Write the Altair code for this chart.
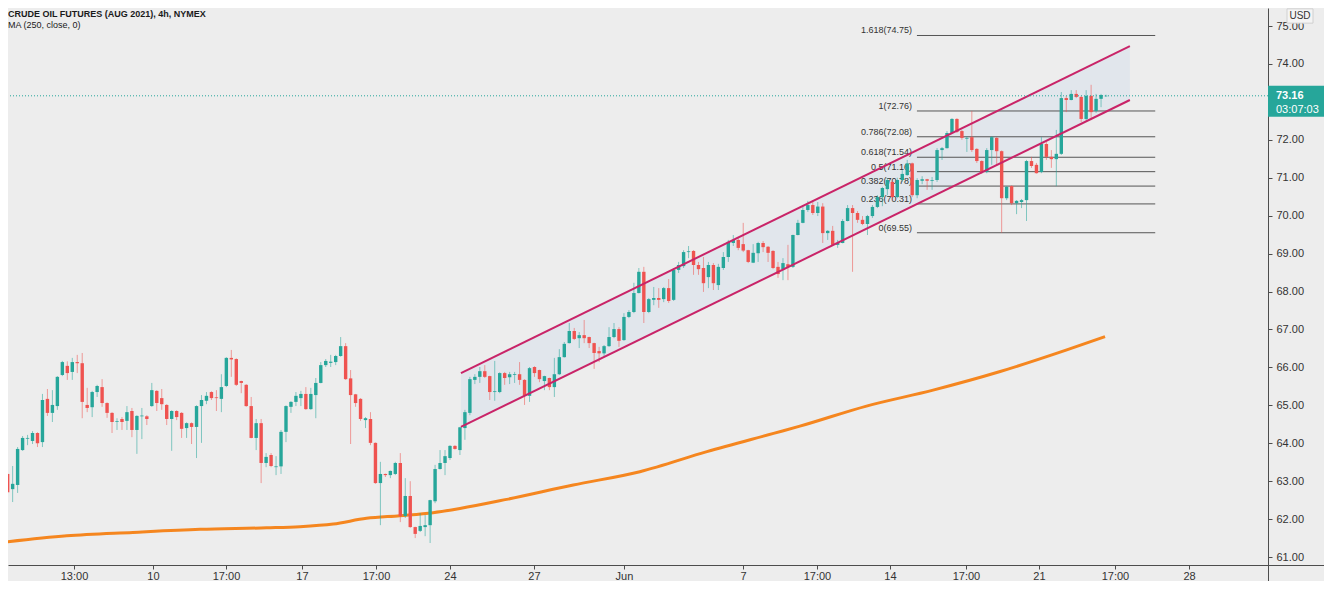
import json
import altair as alt
import pandas as pd

# ---------------- data ----------------
OPEN = [
    63.12, 63.19, 62.79, 62.90, 63.82, 64.12, 64.06, 64.27, 64.03, 65.17,
    64.80, 64.98, 65.80, 66.04, 65.88, 66.14, 66.11, 65.01, 64.95, 65.35,
    65.48, 65.06, 64.80, 64.56, 64.64, 64.59, 64.85, 64.35, 64.71, 64.71,
    64.98, 65.38, 65.19, 65.01, 64.64, 64.85, 64.80, 64.40, 64.53, 64.43,
    64.98, 65.12, 65.35, 65.21, 65.17, 65.51, 66.25, 66.22, 65.64, 65.54,
    64.98, 64.14, 64.53, 63.48, 63.69, 63.37, 63.39, 64.30, 64.96, 65.09,
    65.19, 65.30, 64.90, 65.27, 65.59, 66.06, 66.12, 66.14, 66.30, 66.56,
    65.71, 65.29, 65.17, 64.61, 64.64, 64.01, 62.95, 63.19, 63.16, 63.19,
    63.48, 62.08, 62.61, 61.79, 61.69, 61.79, 61.84, 62.47, 63.32, 63.48,
    63.61, 63.93, 63.82, 64.40, 64.80, 65.67, 65.75, 65.90, 65.77, 65.35,
    65.35, 65.85, 65.74, 65.80, 65.82, 65.67, 65.25, 66.01, 65.93, 65.64,
    65.72, 65.48, 65.82, 66.27, 66.64, 66.96, 66.77, 66.85, 66.80, 66.64,
    66.43, 66.37, 66.56, 66.80, 67.01, 66.72, 67.33, 67.46, 67.96, 68.52,
    67.46, 67.78, 67.83, 67.80, 68.09, 67.78, 68.57, 68.67, 69.04, 69.07,
    68.70, 68.62, 68.38, 68.70, 68.17, 68.62, 68.91, 69.28, 69.36, 69.25,
    69.09, 68.76, 69.01, 69.28, 69.18, 69.07, 68.65, 68.59, 68.72, 68.65,
    69.49, 69.81, 70.15, 70.28, 70.07, 70.24, 69.54, 69.60, 69.23, 69.28,
    69.86, 70.20, 70.07, 69.89, 69.78, 69.99, 70.23, 70.49, 70.70, 70.89,
    70.49, 70.94, 71.07, 71.38, 70.54, 70.92, 70.96, 70.92, 70.94, 71.73,
    71.78, 72.18, 72.55, 72.23, 72.03, 72.07, 71.76, 71.44, 71.15, 71.73,
    72.05, 71.70, 70.46, 70.78, 70.33, 70.36, 70.41, 71.44, 71.34, 71.15,
    71.89, 71.55, 71.49, 71.63, 73.10, 73.05, 73.21, 73.13, 72.55, 73.16,
    72.76, 73.08, 73.15,
]
HIGH = [
    63.48, 63.21, 63.40, 63.90, 64.19, 64.22, 64.32, 64.29, 65.30, 65.43,
    65.40, 65.77, 66.17, 66.16, 66.25, 66.33, 66.38, 65.46, 65.38, 65.54,
    65.69, 65.08, 64.82, 64.66, 64.69, 64.98, 64.93, 64.74, 64.93, 64.74,
    65.59, 65.40, 65.43, 65.03, 64.87, 64.87, 64.82, 64.55, 64.55, 65.00,
    65.27, 65.35, 65.37, 65.40, 65.82, 66.27, 66.46, 66.24, 65.65, 65.56,
    65.22, 64.64, 64.64, 63.74, 63.74, 63.66, 64.35, 65.00, 65.11, 65.35,
    65.38, 65.48, 65.46, 65.72, 66.14, 66.22, 66.33, 66.33, 66.80, 66.64,
    65.93, 65.30, 65.19, 64.69, 64.82, 64.02, 63.51, 63.20, 63.28, 63.51,
    63.74, 63.08, 63.00, 61.80, 62.16, 62.11, 62.51, 63.43, 63.82, 63.82,
    63.95, 63.95, 64.43, 64.88, 65.75, 65.82, 66.01, 66.06, 65.78, 66.17,
    65.87, 65.88, 65.88, 65.88, 66.14, 65.69, 66.01, 66.03, 65.94, 65.78,
    65.73, 66.25, 66.48, 66.67, 67.17, 67.04, 66.93, 67.25, 66.81, 66.65,
    66.54, 66.59, 67.06, 67.17, 67.06, 67.43, 67.51, 68.23, 68.62, 68.65,
    67.83, 68.12, 68.09, 68.12, 68.33, 68.62, 68.78, 69.09, 69.20, 69.09,
    68.78, 68.91, 68.78, 68.75, 68.73, 69.04, 69.36, 69.49, 69.44, 69.81,
    69.10, 69.25, 69.31, 69.33, 69.20, 69.09, 68.78, 68.88, 69.23, 69.50,
    69.89, 70.28, 70.39, 70.41, 70.36, 70.33, 69.62, 69.73, 69.36, 69.91,
    70.28, 70.28, 70.12, 69.99, 70.02, 70.28, 70.54, 70.76, 70.99, 70.94,
    71.00, 71.20, 71.47, 71.40, 70.99, 71.04, 70.97, 71.02, 71.78, 71.81,
    72.23, 72.57, 72.57, 72.26, 72.10, 72.76, 71.78, 71.46, 71.78, 72.10,
    72.07, 71.72, 70.78, 70.80, 70.41, 70.44, 71.47, 71.55, 71.39, 72.07,
    71.94, 71.73, 72.26, 73.26, 73.16, 73.31, 73.31, 73.16, 73.31, 73.45,
    73.21, 73.21, 73.19,
]
LOW = [
    63.10, 62.70, 62.45, 62.69, 63.80, 63.95, 63.98, 63.90, 63.90, 64.72,
    64.56, 64.88, 65.77, 65.67, 65.67, 65.85, 64.66, 64.82, 64.69, 65.22,
    64.96, 64.67, 64.27, 64.35, 64.35, 64.35, 64.16, 63.72, 64.11, 64.48,
    64.96, 64.85, 64.88, 64.48, 63.80, 64.61, 64.14, 64.14, 63.98, 63.61,
    64.01, 65.03, 65.14, 64.85, 64.82, 65.48, 65.75, 65.51, 65.32, 64.96,
    64.13, 63.82, 62.95, 63.37, 63.37, 63.16, 63.19, 64.03, 64.80, 64.98,
    64.98, 64.88, 64.88, 64.66, 65.58, 66.01, 66.01, 66.06, 66.28, 65.67,
    63.98, 64.96, 64.59, 64.40, 63.95, 62.93, 61.84, 63.11, 63.08, 63.16,
    61.92, 62.03, 61.77, 61.50, 61.66, 61.55, 61.37, 62.42, 63.31, 63.16,
    63.56, 63.83, 63.69, 64.09, 64.74, 65.56, 65.59, 65.72, 65.14, 65.12,
    65.32, 65.54, 65.56, 65.59, 65.54, 65.01, 65.09, 65.75, 65.61, 65.40,
    65.40, 65.22, 65.80, 66.26, 66.63, 66.72, 66.51, 66.64, 66.51, 65.96,
    66.14, 66.27, 66.54, 66.77, 66.54, 66.70, 67.30, 67.43, 67.95, 67.17,
    67.43, 67.64, 67.57, 67.72, 67.70, 67.75, 68.49, 68.62, 68.88, 68.44,
    68.44, 67.99, 68.09, 68.04, 68.04, 68.57, 68.78, 69.20, 69.09, 69.04,
    68.75, 68.75, 68.78, 69.04, 68.78, 68.59, 68.36, 68.30, 68.30, 68.62,
    69.48, 69.80, 70.10, 70.02, 69.99, 69.28, 69.36, 69.20, 69.15, 69.27,
    69.85, 68.52, 69.81, 69.75, 69.49, 69.94, 70.20, 70.25, 70.54, 70.41,
    70.46, 70.89, 71.05, 70.49, 70.46, 70.83, 70.68, 70.68, 70.89, 71.47,
    71.77, 72.17, 72.18, 72.00, 71.68, 71.68, 71.39, 71.10, 71.12, 71.34,
    71.34, 69.55, 70.41, 70.28, 70.04, 70.20, 69.86, 71.26, 71.11, 71.12,
    71.47, 71.26, 70.78, 71.60, 72.73, 73.04, 73.10, 72.47, 72.52, 72.52,
    72.71, 72.86, 73.13,
]
CLOSE = [
    63.15, 62.71, 62.93, 63.85, 64.14, 64.14, 64.27, 64.00, 65.14, 64.80,
    65.01, 65.75, 66.14, 65.85, 66.14, 66.11, 65.09, 64.93, 65.35, 65.51,
    65.06, 64.80, 64.56, 64.58, 64.56, 64.82, 64.35, 64.72, 64.73, 64.64,
    65.40, 65.06, 65.03, 64.64, 64.85, 64.69, 64.38, 64.53, 64.43, 64.98,
    65.14, 65.25, 65.19, 65.19, 65.48, 66.25, 66.21, 65.54, 65.59, 64.98,
    64.14, 64.53, 63.48, 63.64, 63.40, 63.39, 64.30, 64.98, 65.09, 65.25,
    65.30, 64.90, 65.30, 65.59, 66.06, 66.17, 66.15, 66.30, 66.56, 65.69,
    65.27, 65.06, 64.64, 64.66, 64.01, 62.95, 63.19, 63.16, 63.27, 63.48,
    62.08, 62.61, 61.79, 61.61, 61.82, 61.84, 62.50, 63.32, 63.48, 63.66,
    63.93, 63.85, 64.42, 64.82, 65.69, 65.75, 65.90, 65.75, 65.35, 65.37,
    65.85, 65.72, 65.82, 65.82, 65.67, 65.25, 65.98, 65.85, 65.69, 65.77,
    65.48, 65.82, 66.27, 66.62, 66.96, 66.75, 66.85, 66.77, 66.64, 66.38,
    66.37, 66.56, 66.80, 67.01, 66.70, 67.33, 67.46, 67.96, 68.52, 67.46,
    67.80, 67.83, 67.78, 68.09, 67.75, 68.57, 68.70, 69.04, 69.06, 68.70,
    68.59, 68.22, 68.70, 68.22, 68.65, 68.91, 69.31, 69.36, 69.15, 69.08,
    68.78, 69.02, 69.28, 69.17, 69.02, 68.62, 68.46, 68.75, 68.65, 69.49,
    69.81, 70.15, 70.28, 70.07, 70.24, 69.54, 69.60, 69.23, 69.28, 69.86,
    70.20, 70.07, 69.89, 69.78, 69.99, 70.23, 70.49, 70.73, 70.94, 70.49,
    70.94, 71.10, 71.38, 70.54, 70.94, 70.96, 70.92, 70.94, 71.73, 71.78,
    72.18, 72.55, 72.21, 72.05, 72.05, 71.73, 71.44, 71.15, 71.73, 72.07,
    71.70, 70.46, 70.76, 70.33, 70.39, 70.41, 71.44, 71.31, 71.12, 71.89,
    71.55, 71.49, 71.63, 73.10, 73.05, 73.21, 73.13, 72.55, 73.16, 72.73,
    73.08, 73.18, 73.16,
]

# 250-period moving average, sampled along the curve (bar index, price)
MA_IDX = [-0.5, 12.9, 26.2, 39.7, 53.1, 59.8, 66.5, 73.2, 79.9, 86.6, 92.0,
          101.4, 114.8, 128.2, 141.7, 155.1, 160.4, 173.8, 187.2, 200.7, 214.1, 221.8]
MA_VAL = [61.38, 61.56, 61.65, 61.73, 61.77, 61.80, 61.87, 62.02, 62.09, 62.17, 62.28,
          62.52, 62.90, 63.25, 63.78, 64.26, 64.45, 64.98, 65.40, 65.89, 66.46, 66.81]

# rising channel (bar index, lower price, upper price)
CHAN_IDX = [92.2, 226.8]
CHAN_LOW = [64.43, 73.05]
CHAN_HIGH = [65.85, 74.47]

# Fibonacci levels
FIB_RATIO = ["1.618", "1", "0.786", "0.618", "0.5", "0.382", "0.236", "0"]
FIB_PRICE = [74.75, 72.76, 72.08, 71.54, 71.16, 70.78, 70.31, 69.55]
FIB_START = 183.95
FIB_END = 231.9

# time axis (bar index of each tick, label)
TICK_IDX = [14.35, 30.24, 44.93, 60.22, 75.11, 90.0, 106.9, 125.01, 148.95,
            163.84, 178.53, 193.82, 208.51, 223.8, 238.7]
TICK_TEXT = ["13:00", "10", "17:00", "17", "17:00", "24", "27", "Jun", "7",
             "17:00", "14", "17:00", "21", "17:00", "28"]
# price labels visible on the scale (73.00 sits under the last-price tag)
PRICE_TICKS = [61, 62, 63, 64, 65, 66, 67, 68, 69, 70, 71, 72, 74, 75]

LAST_PRICE = 73.16
COUNTDOWN = "03:07:03"
TITLE = "CRUDE OIL FUTURES (AUG 2021), 4h, NYMEX"
SUBTITLE = "MA (250, close, 0)"
CURRENCY = "USD"

# ---------------- styling ----------------
BG = "#EDEDED"
UP = "#26A69A"
DOWN = "#EF5350"
MA_COLOR = "#F5861F"
CHAN_COLOR = "#C92468"
CHAN_FILL = "#E1E6EC"
FIB_COLOR = "#555555"
FRAME = "#4D4D4D"
TEXT = "#333333"
FONT = "Liberation Sans, Arial, sans-serif"

W, H = 1260, 557
X_DOMAIN = [1.066, 254.59]
Y_DOMAIN = [60.790, 75.475]

xs = alt.Scale(domain=X_DOMAIN, nice=False, zero=False)
ys = alt.Scale(domain=Y_DOMAIN, nice=False, zero=False)

n = len(OPEN)
candles = pd.DataFrame({
    "idx": list(range(n)),
    "open": OPEN, "high": HIGH, "low": LOW, "close": CLOSE,
})
candles["dir"] = ["up" if c >= o else "down" for o, c in zip(OPEN, CLOSE)]
color = alt.Color("dir:N", scale=alt.Scale(domain=["up", "down"], range=[UP, DOWN]), legend=None)

label_expr = "%s[indexof(%s, datum.value)]" % (json.dumps(TICK_TEXT), json.dumps(TICK_IDX))

x_axis = alt.Axis(
    values=TICK_IDX, labelExpr=label_expr, title=None, grid=False,
    tickSize=4, labelPadding=1, domainColor=FRAME, tickColor=FRAME,
    labelColor=TEXT, labelFont=FONT, labelFontSize=11, labelFlush=False,
    labelOverlap=False,
    labelFontWeight={"condition": {"test": "datum.label == 'Jun'", "value": "bold"}, "value": "normal"},
)
y_axis = alt.Axis(
    orient="right", values=PRICE_TICKS, format=".2f", title=None, grid=False,
    tickSize=4, labelPadding=4, labelAlign="left", labelBaseline="middle",
    domainColor=FRAME, tickColor=FRAME, labelColor=TEXT, labelFont=FONT,
    labelFontSize=11, labelFlush=False, labelOverlap=False,
)


def X(field):
    return alt.X(field, scale=xs, axis=x_axis)


def Y(field):
    return alt.Y(field, scale=ys, axis=y_axis)


# channel fill
chan_df = pd.DataFrame({"idx": CHAN_IDX, "lo": CHAN_LOW, "hi": CHAN_HIGH})
chan_fill = alt.Chart(chan_df).mark_area(color=CHAN_FILL, opacity=1, clip=True).encode(
    x=X("idx:Q"), y=Y("lo:Q"), y2="hi:Q",
)

# fib levels
fib_df = pd.DataFrame({
    "price": FIB_PRICE,
    "start": [FIB_START] * len(FIB_PRICE),
    "end": [FIB_END] * len(FIB_PRICE),
    "label": [f"{r}({p:.2f})" for r, p in zip(FIB_RATIO, FIB_PRICE)],
})
fib_lines = alt.Chart(fib_df).mark_rule(color=FIB_COLOR, strokeWidth=1).encode(
    x=X("start:Q"), x2="end:Q", y=Y("price:Q"),
)
fib_text = alt.Chart(fib_df).mark_text(
    align="right", baseline="alphabetic", dx=-5, dy=-2, font=FONT, fontSize=9, color=TEXT
).encode(x=X("start:Q"), y=Y("price:Q"), text="label:N")

# candles
wicks = alt.Chart(candles).mark_rule(strokeWidth=1, opacity=0.55, clip=True).encode(
    x=X("idx:Q"), y=Y("low:Q"), y2="high:Q", color=color,
)
bodies = alt.Chart(candles).mark_rule(strokeWidth=3.4, clip=True).encode(
    x=X("idx:Q"), y=Y("open:Q"), y2="close:Q", color=color,
)

# moving average
ma_df = pd.DataFrame({"idx": MA_IDX, "ma": MA_VAL})
ma_line = alt.Chart(ma_df).mark_line(color=MA_COLOR, strokeWidth=3, interpolate="monotone", clip=True).encode(
    x=X("idx:Q"), y=Y("ma:Q"),
)

# channel lines
chan_lines_df = pd.DataFrame({
    "idx": CHAN_IDX + CHAN_IDX,
    "price": CHAN_LOW + CHAN_HIGH,
    "line": ["lower"] * 2 + ["upper"] * 2,
})
chan_lines = alt.Chart(chan_lines_df).mark_line(color=CHAN_COLOR, strokeWidth=2, clip=True).encode(
    x=X("idx:Q"), y=Y("price:Q"), detail="line:N",
)

# last price line and label
last_df = pd.DataFrame({"price": [LAST_PRICE], "txt": [f"{LAST_PRICE:.2f}"], "cd": [COUNTDOWN]})
price_line = alt.Chart(last_df).mark_rule(color=UP, strokeWidth=1, strokeDash=[1, 2]).encode(
    y=Y("price:Q"),
)
price_box = alt.Chart(last_df).mark_point(
    shape="M0,-0.18L1,-0.18L1,0.375L0,0.375Z", filled=True, size=12544,
    color=UP, opacity=1, strokeWidth=0, clip=False,
).encode(x=alt.value(W), y=Y("price:Q"))
price_txt = alt.Chart(last_df).mark_text(
    align="left", baseline="middle", font=FONT, fontSize=11, fontWeight="bold", color="white", clip=False
).encode(x=alt.value(W + 8), y=Y("price:Q"), text="txt:N")
cd_txt = alt.Chart(last_df).mark_text(
    align="left", baseline="middle", font=FONT, fontSize=11, color="white", yOffset=14, clip=False
).encode(x=alt.value(W + 8), y=Y("price:Q"), text="cd:N")

# header texts
title_df = pd.DataFrame({"t": [TITLE]})
title = alt.Chart(title_df).mark_text(
    align="left", baseline="middle", font=FONT, fontSize=9, fontWeight="bold", color="#1a1a1a"
).encode(x=alt.value(0), y=alt.value(6), text="t:N")
sub_df = pd.DataFrame({"t": [SUBTITLE]})
subtitle = alt.Chart(sub_df).mark_text(
    align="left", baseline="middle", font=FONT, fontSize=9, color="#1a1a1a"
).encode(x=alt.value(0), y=alt.value(17), text="t:N")

usd_df = pd.DataFrame({"t": [CURRENCY]})
usd_box = alt.Chart(usd_df).mark_point(
    shape="M-1,-0.55L1,-0.55L1,0.55L-1,0.55Z", filled=True, size=676, color="#F4F4F4",
    stroke="#D0D0D0", strokeWidth=1, opacity=1, clip=False,
).encode(x=alt.value(W + 32), y=alt.value(8))
usd_txt = alt.Chart(usd_df).mark_text(
    align="center", baseline="middle", font=FONT, fontSize=10, color=TEXT, clip=False
).encode(x=alt.value(W + 32), y=alt.value(8), text="t:N")

# frame extensions of the axes
frame_df = pd.DataFrame({"a": [0]})
vframe = alt.Chart(frame_df).mark_rule(color=FRAME, strokeWidth=1, clip=False).encode(
    x=alt.value(W + 0.5), y=alt.value(H), y2=alt.value(H + 16))
hframe = alt.Chart(frame_df).mark_rule(color=FRAME, strokeWidth=1, clip=False).encode(
    x=alt.value(W), x2=alt.value(W + 56), y=alt.value(H + 0.5))

chart = alt.layer(
    chan_fill, fib_lines, fib_text, ma_line, wicks, bodies, chan_lines,
    price_line, price_box, price_txt, cd_txt, title, subtitle, usd_box, usd_txt,
    vframe, hframe,
).properties(
    width=W, height=H,
    autosize=alt.AutoSizeParams(type="none"),
    padding={"left": 0, "top": 0, "right": 56, "bottom": 16},
    background=BG,
).configure_view(stroke=None)

chart.save("out.html", embed_options={"renderer": "svg", "actions": False})
